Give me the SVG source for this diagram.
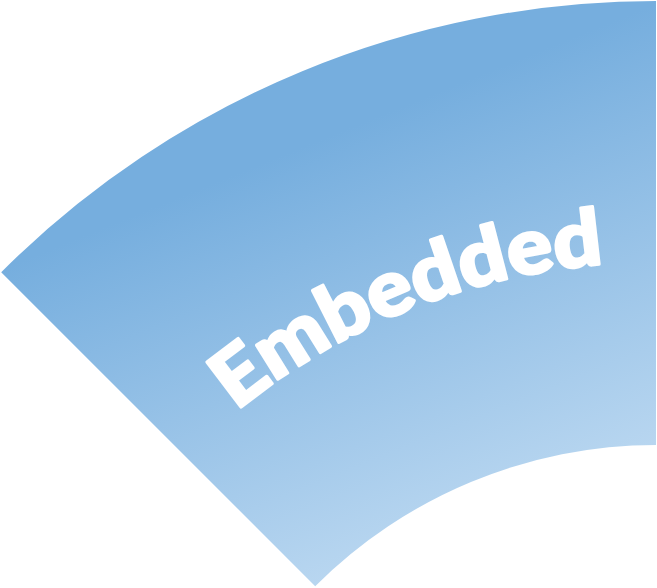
<svg xmlns="http://www.w3.org/2000/svg" width="657" height="588" viewBox="0 0 657 588">
  <defs>
    <linearGradient id="g" gradientUnits="userSpaceOnUse" x1="300" y1="148" x2="454" y2="528">
      <stop offset="0" stop-color="#76AEDE"/>
      <stop offset="1" stop-color="#B8D6F0"/>
    </linearGradient>
    <path id="arc" d="M 185.8 456.8 A 665 665 0 0 1 656 262"/>
    <style>
      .lbl { font-family: "Lato", "Inter", "Liberation Sans", sans-serif; font-weight: 900; font-size: 78px; fill: #FFFFFF; stroke: #FFFFFF; stroke-width: 3; stroke-linejoin: round; }
    </style>
  </defs>
  <g id="sector">
    <path d="M 1.2 272.2 A 926 926 0 0 1 656 1 L 656 445 A 482 482 0 0 0 315.2 586.2 Z" fill="url(#g)"/>
    <text class="lbl"><textPath href="#arc" startOffset="68" textLength="402" lengthAdjust="spacingAndGlyphs">Embedded</textPath></text>
  </g>
</svg>
